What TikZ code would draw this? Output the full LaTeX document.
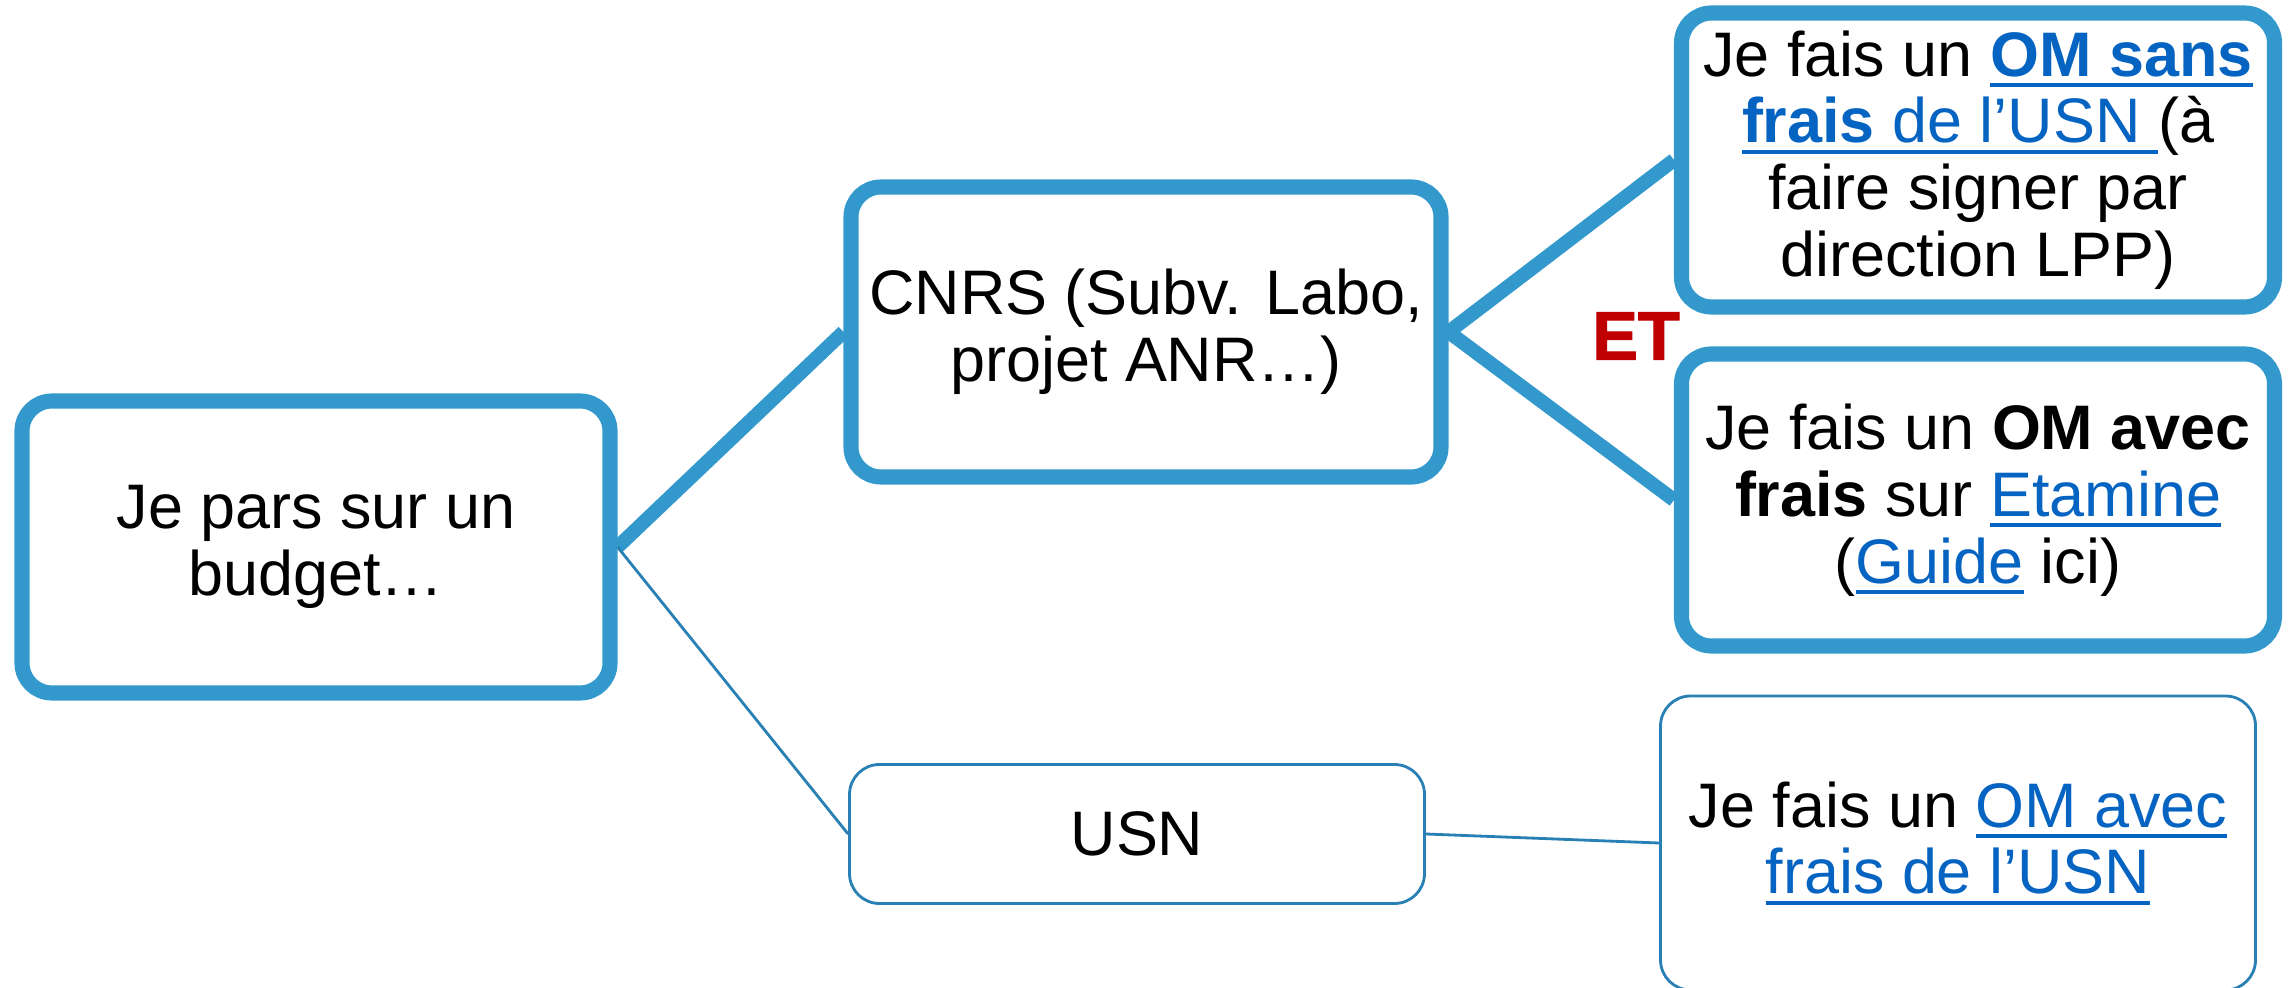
\documentclass[tikz,border=0pt]{standalone}
\usepackage{fontspec}
\setmainfont{Liberation Sans}
\newfontfamily\etfont[FakeBold=1.5]{Liberation Sans Bold}
\usepackage{tikz}
\definecolor{boxblue}{RGB}{51,153,204}
\definecolor{thinblue}{RGB}{40,128,180}
\definecolor{linkblue}{RGB}{5,99,193}
\definecolor{etred}{RGB}{192,0,0}
\newsavebox{\lienbox}
\newcommand{\lien}[1]{{\color{linkblue}\sbox{\lienbox}{#1}%
  \rlap{\rule[-0.17em]{\wd\lienbox}{1.1pt}}\usebox{\lienbox}}}

\begin{document}
\begin{tikzpicture}[
     bigbox/.style={draw=boxblue,line width=4.3pt,rounded corners=0.3cm,fill=white,
       align=center,inner sep=0pt,font=\fontsize{17.9pt}{19pt}\selectfont},
     smallbox/.style={bigbox,draw=thinblue,line width=0.8pt},
     thickline/.style={boxblue,line width=4pt},
     thinline/.style={thinblue,line width=0.8pt}]
     \useasboundingbox (0,0) rectangle (22.92,-9.88);
     \node[bigbox,minimum width=5.88cm,minimum height=2.92cm] (budget) at (3.16,-5.47)
       {Je pars sur un\\budget…};
     \node[bigbox,minimum width=5.9cm,minimum height=2.9cm] (cnrs) at (11.46,-3.32)
       {CNRS (Subv. Labo,\\projet ANR…)};
     \node[bigbox,minimum width=5.93cm,minimum height=2.94cm] (sansfrais) at (19.78,-1.60)
       {Je fais un \lien{\textbf{OM sans}}\\\lien{\textbf{frais} de l’USN\ }(à\\faire signer par\\direction LPP)};
     \node[bigbox,minimum width=5.93cm,minimum height=2.92cm] (avecfrais) at (19.78,-5.00)
       {Je fais un \textbf{OM avec}\\\textbf{frais} sur \lien{Etamine}\\(\lien{Guide} ici)};
     \node[smallbox,minimum width=5.75cm,minimum height=1.39cm] (usn) at (11.37,-8.34)
       {USN};
     \node[smallbox,minimum width=5.95cm,minimum height=2.94cm] (omusn) at (19.58,-8.43)
       {Je fais un \lien{OM avec}\\\lien{frais de l’USN}};
     \node[text=etred,font=\fontsize{19.5pt}{20pt}\etfont] (et) at (16.36,-3.36) {ET};
     \draw[thickline] (budget.east) -- (cnrs.west);
     \draw[thinline] (budget.east) -- (usn.west);
     \draw[thickline] (cnrs.east) -- (sansfrais.west);
     \draw[thickline] (cnrs.east) -- (avecfrais.west);
     \draw[thinline] (usn.east) -- (omusn.west);
\end{tikzpicture}
\end{document}
